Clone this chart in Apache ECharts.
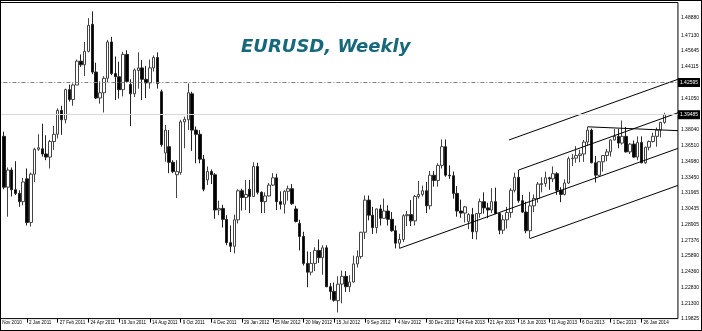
<!DOCTYPE html>
<html><head><meta charset="utf-8">
<script src="https://cdn.jsdelivr.net/npm/echarts@6/dist/echarts.min.js"></script>
<style>
html,body{margin:0;padding:0;background:#fff;overflow:hidden}
#wrap{position:absolute;left:0;top:0;width:702px;height:331px;overflow:hidden}
#c{width:714px;height:331px;position:absolute;left:-12px;top:0}
#f{position:absolute;left:0;top:0;width:700px;height:329px;border:1px solid #000;pointer-events:none}
</style>
</head><body><div id="wrap"><div id="c"></div><div id="f"></div></div>
<script>
// first category = week of 7 Nov 2010; first candle = week of 21 Nov 2010
const firstWeekUTC = Date.UTC(2010, 10, 7);
const categoryCount = 178;
const firstCandleOffset = 2;
const lastLabelledWeek = 168;

const opens = [1.3740,1.3250,1.3415,1.3225,1.3190,1.3110,1.3330,1.2910,1.3375,1.3615,
 1.3620,1.3570,1.3540,1.3690,1.3760,1.3990,1.3900,1.4190,1.4095,1.4235,
 1.4465,1.4430,1.4560,1.4820,1.4360,1.4110,1.4160,1.4300,1.4650,1.4345,
 1.4315,1.4190,1.4530,1.4240,1.4150,1.4375,1.4400,1.4290,1.4255,1.4400,
 1.4500,1.4170,1.3580,1.3640,1.3490,1.3370,1.3390,1.3880,1.3900,1.4150,
 1.3800,1.3760,1.3520,1.3320,1.3400,1.3370,1.3030,1.3045,1.2940,1.2715,
 1.2680,1.2935,1.3215,1.3150,1.3230,1.3160,1.3450,1.3200,1.3110,1.3165,
 1.3270,1.3340,1.3110,1.3085,1.3210,1.3235,1.3040,1.2900,1.2775,1.2515,
 1.2430,1.2515,1.2640,1.2570,1.2665,1.2290,1.2245,1.2155,1.2315,1.2390,
 1.2290,1.2335,1.2510,1.2580,1.2815,1.3125,1.2980,1.2860,1.3040,1.2950,
 1.3020,1.2940,1.2830,1.2710,1.2745,1.2975,1.2985,1.2925,1.3160,1.3180,
 1.3215,1.3070,1.3365,1.3315,1.3460,1.3640,1.3365,1.3360,1.3190,1.3020,
 1.3000,1.2920,1.2985,1.2820,1.2995,1.3110,1.3050,1.3030,1.3110,1.2995,
 1.2835,1.2935,1.3005,1.3220,1.3345,1.3120,1.3010,1.2830,1.3070,1.3140,
 1.3275,1.3285,1.3340,1.3330,1.3380,1.3220,1.3180,1.3290,1.3525,1.3530,
 1.3555,1.3570,1.3685,1.3800,1.3485,1.3365,1.3495,1.3555,1.3590,1.3705,
 1.3740,1.3675,1.3740,1.3590,1.3665,1.3540,1.3680,1.3485,1.3635,1.3690,
 1.3740,1.3800,1.3875];
const highs = [1.3785,1.3440,1.3440,1.3500,1.3220,1.3340,1.3430,1.3390,1.3630,1.3760,
 1.3862,1.3750,1.3705,1.3840,1.4010,1.4035,1.4200,1.4240,1.4250,1.4480,
 1.4530,1.4650,1.4880,1.4945,1.4450,1.4270,1.4320,1.4670,1.4700,1.4510,
 1.4460,1.4555,1.4570,1.4290,1.4395,1.4550,1.4475,1.4420,1.4480,1.4520,
 1.4550,1.4190,1.3850,1.3800,1.3510,1.3510,1.3900,1.3930,1.4250,1.4170,
 1.3835,1.3800,1.3560,1.3450,1.3420,1.3385,1.3120,1.3080,1.2980,1.2880,
 1.2985,1.3230,1.3235,1.3320,1.3320,1.3490,1.3485,1.3210,1.3200,1.3290,
 1.3385,1.3380,1.3210,1.3220,1.3265,1.3280,1.3070,1.2935,1.2820,1.2630,
 1.2625,1.2670,1.2745,1.2690,1.2690,1.2325,1.2330,1.2390,1.2445,1.2440,
 1.2400,1.2590,1.2640,1.2820,1.3170,1.3170,1.3060,1.3045,1.3080,1.3140,
 1.3075,1.3010,1.2880,1.2800,1.2990,1.3020,1.3125,1.3175,1.3310,1.3265,
 1.3300,1.3405,1.3405,1.3480,1.3710,1.3710,1.3460,1.3400,1.3260,1.3130,
 1.3070,1.3000,1.3050,1.3000,1.3140,1.3200,1.3100,1.3240,1.3245,1.3000,
 1.2980,1.3060,1.3240,1.3390,1.3415,1.3175,1.3110,1.3205,1.3180,1.3300,
 1.3345,1.3400,1.3350,1.3450,1.3395,1.3250,1.3325,1.3545,1.3570,1.3645,
 1.3610,1.3705,1.3832,1.3815,1.3550,1.3500,1.3560,1.3620,1.3710,1.3810,
 1.3810,1.3893,1.3830,1.3675,1.3700,1.3740,1.3740,1.3640,1.3700,1.3775,
 1.3825,1.3880,1.3967];
const lows = [1.3230,1.2965,1.3160,1.3175,1.3060,1.3075,1.2880,1.2870,1.3300,1.3600,
 1.3545,1.3510,1.3430,1.3610,1.3720,1.3755,1.3865,1.4075,1.4035,1.4235,
 1.4410,1.4320,1.4550,1.4340,1.4100,1.4055,1.3970,1.4260,1.4330,1.4090,
 1.4105,1.4125,1.4260,1.3840,1.4120,1.4200,1.4090,1.4110,1.4200,1.4365,
 1.4200,1.3640,1.3495,1.3385,1.3385,1.3145,1.3370,1.3625,1.3800,1.3600,
 1.3480,1.3480,1.3210,1.3270,1.3280,1.2945,1.2980,1.2860,1.2690,1.2625,
 1.2612,1.2900,1.3025,1.3030,1.3000,1.3155,1.3180,1.3000,1.3000,1.3160,
 1.3260,1.3030,1.3035,1.2995,1.3120,1.3080,1.2910,1.2640,1.2495,1.2285,
 1.2400,1.2440,1.2520,1.2405,1.2285,1.2165,1.2145,1.2042,1.2130,1.2240,
 1.2240,1.2330,1.2475,1.2560,1.2750,1.2930,1.2800,1.2805,1.2880,1.2950,
 1.2880,1.2820,1.2660,1.2660,1.2720,1.2875,1.2875,1.2880,1.3140,1.3160,
 1.3000,1.3035,1.3255,1.3255,1.3430,1.3350,1.3330,1.3140,1.2965,1.2955,
 1.2910,1.2845,1.2750,1.2745,1.2955,1.2995,1.2950,1.3000,1.2990,1.2795,
 1.2800,1.2850,1.2955,1.3200,1.3100,1.3000,1.2805,1.2755,1.3010,1.3100,
 1.3200,1.3255,1.3225,1.3300,1.3175,1.3105,1.3170,1.3280,1.3455,1.3485,
 1.3490,1.3495,1.3650,1.3480,1.3295,1.3360,1.3400,1.3500,1.3545,1.3700,
 1.3625,1.3660,1.3585,1.3570,1.3535,1.3510,1.3480,1.3475,1.3605,1.3680,
 1.3640,1.3730,1.3860];
const closes = [1.3250,1.3415,1.3225,1.3190,1.3110,1.3300,1.2910,1.3375,1.3615,1.3630,
 1.3570,1.3540,1.3690,1.3760,1.3990,1.3900,1.4190,1.4095,1.4235,1.4465,
 1.4430,1.4560,1.4810,1.4360,1.4110,1.4160,1.4300,1.4650,1.4345,1.4315,
 1.4190,1.4530,1.4270,1.4150,1.4380,1.4400,1.4290,1.4255,1.4400,1.4500,
 1.4250,1.3660,1.3800,1.3490,1.3400,1.3400,1.3880,1.3905,1.4160,1.3800,
 1.3760,1.3520,1.3230,1.3400,1.3370,1.3030,1.3045,1.2940,1.2715,1.2680,
 1.2935,1.3215,1.3150,1.3180,1.3160,1.3450,1.3200,1.3110,1.3165,1.3270,
 1.3340,1.3110,1.3085,1.3210,1.3235,1.3090,1.2920,1.2775,1.2515,1.2430,
 1.2515,1.2640,1.2570,1.2665,1.2290,1.2245,1.2160,1.2315,1.2390,1.2290,
 1.2335,1.2510,1.2580,1.2815,1.3125,1.2980,1.2860,1.3040,1.2950,1.3020,
 1.2940,1.2830,1.2710,1.2745,1.2975,1.2985,1.2925,1.3160,1.3180,1.3215,
 1.3070,1.3365,1.3315,1.3460,1.3640,1.3365,1.3360,1.3190,1.3020,1.3000,
 1.3060,1.2985,1.2820,1.2995,1.3110,1.3050,1.3030,1.3110,1.2995,1.2835,
 1.2935,1.3005,1.3220,1.3345,1.3120,1.3010,1.2830,1.3070,1.3140,1.3280,
 1.3285,1.3340,1.3330,1.3380,1.3220,1.3180,1.3290,1.3525,1.3530,1.3555,
 1.3570,1.3685,1.3800,1.3485,1.3365,1.3495,1.3555,1.3590,1.3705,1.3740,
 1.3675,1.3740,1.3590,1.3665,1.3540,1.3680,1.3485,1.3635,1.3690,1.3740,
 1.3800,1.3875,1.39485];

const priceTicks = [1.48880,1.47130,1.45645,1.44115,1.41050,1.38040,1.36510,1.34980,1.33450,
 1.31965,1.30435,1.28905,1.27376,1.25890,1.24360,1.22830,1.21300,1.19825];
const resistanceLevel = 1.42595;
const bidPrice = 1.39485;
// trend lines: [[weekIndex, price], [weekIndex, price]]
const trendLines = [
  [[133.5, 1.3705], [177.5, 1.4290]],
  [[136, 1.3415], [177.5, 1.3967]],
  [[105, 1.2660], [177.5, 1.3624]],
  [[139, 1.2755], [177.5, 1.3267]],
  [[154, 1.3832], [177.5, 1.3795]]
];
const priceMin = 1.19825, priceMax = 1.50307;

const MON = ['Jan','Feb','Mar','Apr','May','Jun','Jul','Aug','Sep','Oct','Nov','Dec'];
const categories = [];
for (let k = 0; k < categoryCount; k++) {
  const d = new Date(firstWeekUTC + k * 7 * 86400000);
  categories.push(d.getUTCDate() + ' ' + MON[d.getUTCMonth()] + ' ' + d.getUTCFullYear());
}
const candleData = categories.map((c, k) => {
  const i = k - firstCandleOffset;
  if (i < 0 || i >= opens.length) return '-';
  return [opens[i], closes[i], lows[i], highs[i]];
});

const chart = echarts.init(document.getElementById('c'), null, {renderer: 'canvas'});
const lblFont = 'Liberation Sans';
const showEvery8 = (idx) => idx % 8 === 0 && idx <= lastLabelledWeek;
const boxLabel = (txt) => ({show: true, position: 'end', distance: 0, formatter: () => txt,
  backgroundColor: '#000', color: '#fff', fontSize: 5, padding: [2,2,2,2], fontFamily: lblFont});

chart.setOption({
  animation: false,
  backgroundColor: '#fff',
  title: {
    text: 'EURUSD, Weekly', left: 253, top: 38, padding: 0,
    textStyle: {color: '#17687a', fontSize: 18, fontWeight: 'bold', fontStyle: 'italic', fontFamily: 'DejaVu Sans'}
  },
  grid: {left: 6.38, right: 22.5, top: 2.5, bottom: 12.4, show: true, borderColor: '#000', borderWidth: 1, backgroundColor: 'transparent'},
  xAxis: [{
    type: 'category', data: categories, boundaryGap: true,
    axisLine: {show: false},
    axisTick: {show: true, alignWithLabel: true, interval: showEvery8, length: 4, lineStyle: {color: '#000'}},
    axisLabel: {show: true, interval: showEvery8, align: 'left', fontSize: 4.6, color: '#000', margin: 1.5, padding: [0,0,0,2], fontFamily: lblFont},
    splitLine: {show: false}
  }, {
    type: 'value', min: -0.5, max: categoryCount - 0.5, show: false
  }],
  yAxis: {
    type: 'value', position: 'right', min: priceMin, max: priceMax,
    axisLine: {show: false}, splitLine: {show: false},
    axisTick: {show: true, customValues: priceTicks, length: 3, lineStyle: {color: '#000'}},
    axisLabel: {show: true, customValues: priceTicks, formatter: v => v.toFixed(5), fontSize: 5, color: '#000', margin: 3, fontFamily: lblFont}
  },
  series: [{
    type: 'candlestick', xAxisIndex: 0, data: candleData, barWidth: 3,
    itemStyle: {color: '#fff', color0: '#000', borderColor: '#444', borderColor0: '#222', borderWidth: 1},
    emphasis: {disabled: true},
    markLine: {
      silent: true, symbol: 'none', animation: false, precision: 5,
      data: [
        {yAxis: resistanceLevel, lineStyle: {color: '#808080', type: [4,2,1,2], width: 1},
         label: boxLabel(resistanceLevel.toFixed(5))},
        {yAxis: bidPrice, lineStyle: {color: '#d9d9d9', type: 'solid', width: 1},
         label: boxLabel(bidPrice.toFixed(5))}
      ]
    }
  }].concat(trendLines.map(pts => ({
    type: 'line', xAxisIndex: 1, data: pts, symbol: 'none', silent: true,
    lineStyle: {color: '#000', width: 1}, z: 3
  })))
});
</script>
</body></html>
